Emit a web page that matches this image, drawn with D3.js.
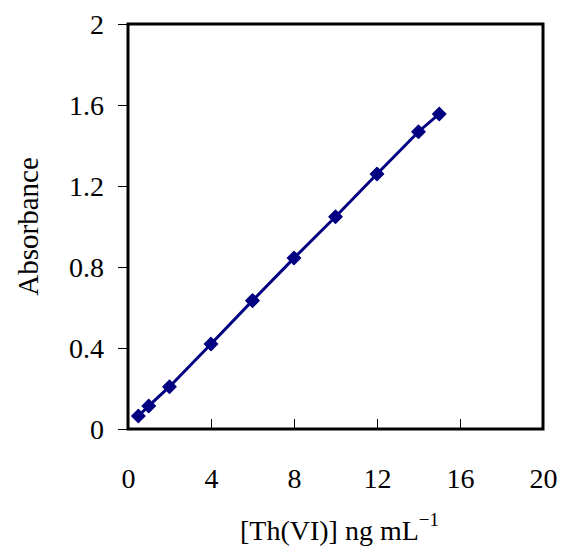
<!DOCTYPE html>
<html>
<head>
<meta charset="utf-8">
<script src="https://cdn.jsdelivr.net/npm/d3@7"></script>
<style>
  body { margin: 0; background: #fff; }
  text { font-family: "Liberation Serif", "Times New Roman", serif; fill: #000; }
</style>
</head>
<body>
<svg id="chart" width="564" height="548"></svg>
<script>
// concentration (ng/mL) and measured absorbance
var conc = [0.5, 1, 2, 4, 6, 8, 10, 12, 14, 15];
var absorbance = [0.064, 0.114, 0.209, 0.42, 0.634, 0.844, 1.048, 1.259, 1.468, 1.556];
var xTicks = [0, 4, 8, 12, 16, 20];
var yTicks = [0, 0.4, 0.8, 1.2, 1.6, 2];

var svg = d3.select('#chart');
// plot box edges (window.top is read-only, so no "top" here)
var plotLeft = 128, plotRight = 543, plotTop = 24, plotBottom = 429;

var x = d3.scaleLinear().domain([0, 20]).range([plotLeft, plotRight]);
var y = d3.scaleLinear().domain([0, 2]).range([plotBottom, plotTop]);

// y axis: ticks outside on the left
var yAxis = svg.append('g')
    .attr('transform', 'translate(' + plotLeft + ',0)')
    .call(d3.axisLeft(y).tickValues(yTicks).tickSize(10).tickPadding(14)
        .tickFormat(function(d) { return d === 0 || d === 2 ? String(d) : d3.format('.1f')(d); }));
yAxis.select('.domain').remove();
yAxis.selectAll('text').style('font-size', '28px').attr('dy', '0.34em');

// x axis: ticks inside pointing up, labels well below
var xAxis = svg.append('g')
    .attr('transform', 'translate(0,' + plotBottom + ')')
    .call(d3.axisBottom(x).tickValues(xTicks).tickSize(-10).tickPadding(0));
xAxis.select('.domain').remove();
xAxis.selectAll('text').style('font-size', '28px').attr('y', 59).attr('dy', 0);

// frame
svg.append('rect')
    .attr('x', plotLeft).attr('y', plotTop)
    .attr('width', plotRight - plotLeft).attr('height', plotBottom - plotTop)
    .attr('fill', 'none').attr('stroke', '#000').attr('stroke-width', 3);

// calibration line
var pts = conc.map(function(c, i) { return [c, absorbance[i]]; });
svg.append('path')
    .datum(pts)
    .attr('d', d3.line().x(function(d) { return x(d[0]); }).y(function(d) { return y(d[1]); }))
    .attr('fill', 'none').attr('stroke', '#000080').attr('stroke-width', 3);

// diamond markers
svg.selectAll('.pt').data(pts).enter().append('path')
    .attr('class', 'pt')
    .attr('transform', function(d) { return 'translate(' + x(d[0]) + ',' + y(d[1]) + ')'; })
    .attr('d', 'M0,-6.5L6.5,0L0,6.5L-6.5,0Z')
    .attr('fill', '#000080').attr('stroke', '#000080').attr('stroke-width', 1.5)
    .attr('stroke-linejoin', 'round');

// axis titles
svg.append('text')
    .attr('transform', 'translate(38,' + ((plotTop + plotBottom) / 2) + ') rotate(-90)')
    .attr('text-anchor', 'middle')
    .style('font-size', '29px')
    .text('Absorbance');

var xt = svg.append('text')
    .attr('x', (plotLeft + plotRight) / 2 + 4).attr('y', 540)
    .attr('text-anchor', 'middle')
    .style('font-size', '28px');
xt.append('tspan').text('[Th(VI)] ng mL');
xt.append('tspan').attr('dy', -14).style('font-size', '19px').text('\u22121');
</script>
</body>
</html>
